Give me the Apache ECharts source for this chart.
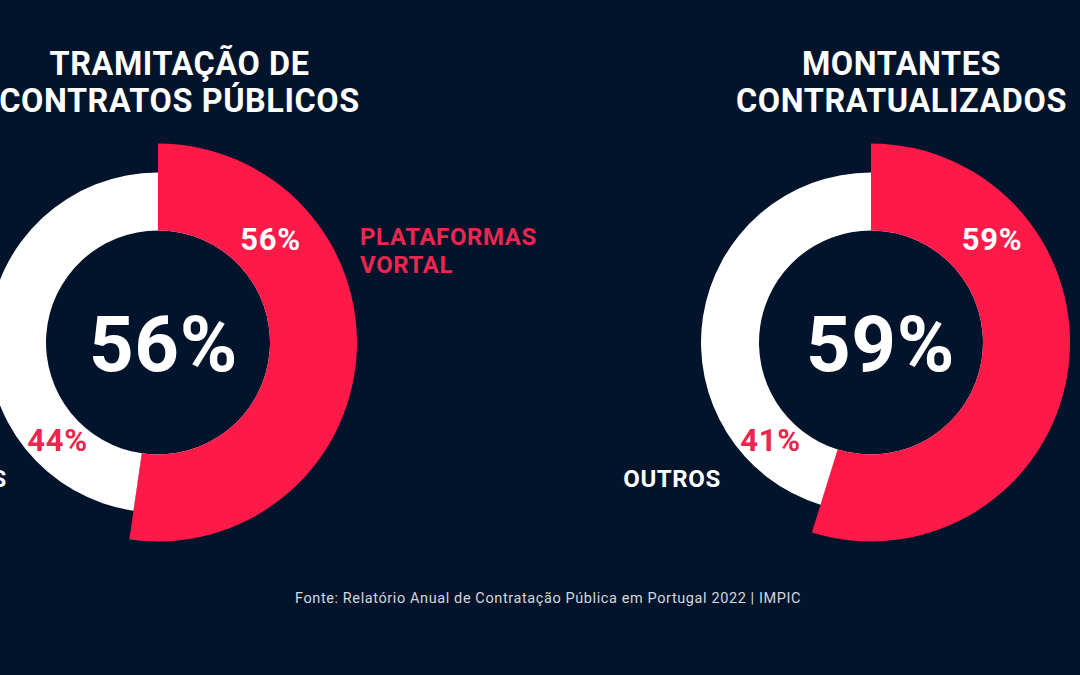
<!DOCTYPE html>
<html><head><meta charset="utf-8">
<style>html,body{margin:0;padding:0;background:#02142b}#c{width:1080px;height:675px;letter-spacing:0.6px}</style>
<script src="https://cdn.jsdelivr.net/npm/echarts@6/dist/echarts.min.js"></script>
</head><body><div id="c"></div>
<script>
const categories = ['Plataformas Vortal', 'Outros'];
const tramitacaoLabels = [56, 44];
const montantesLabels = [59, 41];
// Arc shares as actually drawn in the picture (they differ from the printed percentages)
const tramitacaoArcs = [52.3, 47.7];
const montantesArcs = [54.8, 45.2];
const titleLeft = 'TRAMITAÇÃO DE\nCONTRATOS PÚBLICOS';
const titleRight = 'MONTANTES\nCONTRATUALIZADOS';
const legendVortal = 'PLATAFORMAS\nVORTAL';
const legendOutros = 'OUTROS';
const sourceNote = 'Fonte: Relatório Anual de Contratação Pública em Portugal 2022 | IMPIC';

const RED = '#fd1a48', REDTEXT = '#e9274f', WHITE = '#ffffff', BG = '#02142b', FONT = 'Roboto';
const cy = 342.5;
function rings(cx, arcs) {
  const mk = (rOuter, colors, z) => ({
    type: 'pie', center: [cx, cy], radius: [112, rOuter], startAngle: 90, clockwise: true,
    animation: false, silent: true, z, label: {show: false}, labelLine: {show: false},
    emphasis: {disabled: true},
    data: categories.map((n, i) => ({name: n, value: arcs[i], itemStyle: {color: colors[i]}}))
  });
  return [mk(170, [WHITE, WHITE], 1), mk(199, [RED, 'rgba(0,0,0,0)'], 2)];
}
const txt = (x, y, text, size, color, weight, align, lh) => ({
  type: 'text', x, y, z: 10, silent: true,
  style: {text, fontFamily: FONT, fontSize: size, fontWeight: weight, fill: color,
          align: align || 'center', verticalAlign: 'middle', lineHeight: lh}
});
const chart = echarts.init(document.getElementById('c'), null, {renderer: 'svg', width: 1080, height: 675});
chart.setOption({
  backgroundColor: BG, animation: false,
  series: [...rings(158, tramitacaoArcs), ...rings(871, montantesArcs)],
  graphic: {elements: [
    txt(179.5, 82.5, titleLeft, 32.4, WHITE, 700, 'center', 37),
    txt(901.5, 82.5, titleRight, 32.4, WHITE, 700, 'center', 37),
    txt(163.5, 344, tramitacaoLabels[0] + '%', 78, WHITE, 700),
    txt(880.5, 344, montantesLabels[0] + '%', 78, WHITE, 700),
    txt(270.5, 239, tramitacaoLabels[0] + '%', 31, WHITE, 700),
    txt(992, 239, montantesLabels[0] + '%', 31, WHITE, 700),
    txt(57.5, 440, tramitacaoLabels[1] + '%', 31, REDTEXT, 700),
    txt(770.5, 440, montantesLabels[1] + '%', 31, REDTEXT, 700),
    txt(360, 251, legendVortal, 24, REDTEXT, 700, 'left', 28),
    txt(672, 479, legendOutros, 24, WHITE, 700),
    txt(7, 479, legendOutros, 24, WHITE, 700, 'right'),
    txt(548, 598, sourceNote, 14.5, '#d3d8de', 400)
  ]}
});
</script></body></html>
